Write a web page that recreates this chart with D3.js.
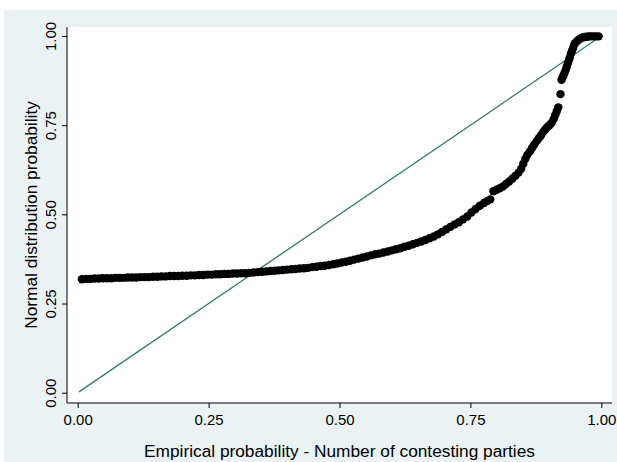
<!DOCTYPE html>
<html>
<head>
  <meta charset="utf-8">
  <script src="https://d3js.org/d3.v7.min.js"></script>
  <style>
    body { margin: 0; background: #ffffff; }
    text { font-family: "Liberation Sans", Arial, sans-serif; fill: #000; }
  </style>
</head>
<body>
  <div id="chart"></div>
  <script>
    // empirical probability (x) and normal distribution probability (y)
    var empirical = [
      0.008, 0.016, 0.024, 0.032, 0.040, 0.048, 0.056, 0.064, 0.072, 0.080,
      0.088, 0.096, 0.104, 0.112, 0.120, 0.128, 0.136, 0.144, 0.152, 0.160,
      0.168, 0.176, 0.184, 0.192, 0.200, 0.208, 0.216, 0.224, 0.232, 0.240,
      0.248, 0.256, 0.264, 0.272, 0.280, 0.288, 0.296, 0.304, 0.312, 0.320,
      0.328, 0.336, 0.344, 0.352, 0.360, 0.368, 0.376, 0.384, 0.392, 0.400,
      0.408, 0.416, 0.424, 0.432, 0.440, 0.448, 0.456, 0.464, 0.472, 0.480,
      0.488, 0.496, 0.504, 0.512, 0.520, 0.528, 0.536, 0.544, 0.552, 0.560,
      0.568, 0.576, 0.584, 0.592, 0.600, 0.608, 0.616, 0.624, 0.632, 0.640,
      0.648, 0.656, 0.664, 0.672, 0.680, 0.688, 0.696, 0.704, 0.712, 0.720,
      0.728, 0.736, 0.744, 0.752, 0.760, 0.768, 0.776, 0.782, 0.788, 0.794,
      0.800, 0.806, 0.812, 0.818, 0.824, 0.830, 0.836, 0.842, 0.847, 0.851,
      0.855, 0.859, 0.864, 0.868, 0.872, 0.877, 0.881, 0.885, 0.889, 0.893,
      0.897, 0.901, 0.905, 0.909, 0.912, 0.915, 0.918, 0.922, 0.924, 0.926,
      0.928, 0.930, 0.932, 0.934, 0.936, 0.938, 0.940, 0.942, 0.944, 0.946,
      0.948, 0.950, 0.953, 0.956, 0.960, 0.964, 0.968, 0.972, 0.976, 0.980,
      0.985, 0.990, 0.995
    ];
    var normalProb = [
      0.318, 0.319, 0.319, 0.320, 0.320, 0.321, 0.321, 0.321, 0.322, 0.322,
      0.322, 0.323, 0.323, 0.323, 0.324, 0.324, 0.324, 0.325, 0.325, 0.326,
      0.326, 0.327, 0.327, 0.327, 0.328, 0.328, 0.329, 0.329, 0.330, 0.330,
      0.331, 0.331, 0.332, 0.332, 0.333, 0.333, 0.334, 0.334, 0.335, 0.335,
      0.336, 0.337, 0.338, 0.339, 0.340, 0.341, 0.342, 0.343, 0.344, 0.345,
      0.346, 0.347, 0.348, 0.349, 0.350, 0.352, 0.353, 0.355, 0.356, 0.358,
      0.360, 0.362, 0.365, 0.367, 0.370, 0.373, 0.376, 0.379, 0.382, 0.385,
      0.388, 0.390, 0.393, 0.396, 0.399, 0.402, 0.405, 0.409, 0.412, 0.416,
      0.420, 0.424, 0.428, 0.433, 0.438, 0.444, 0.451, 0.458, 0.465, 0.472,
      0.478, 0.486, 0.494, 0.505, 0.515, 0.524, 0.532, 0.537, 0.542, 0.565,
      0.569, 0.573, 0.578, 0.585, 0.592, 0.600, 0.608, 0.617, 0.628, 0.642,
      0.656, 0.667, 0.677, 0.687, 0.696, 0.706, 0.714, 0.722, 0.731, 0.738,
      0.745, 0.750, 0.756, 0.767, 0.778, 0.789, 0.800, 0.837, 0.877, 0.884,
      0.890, 0.897, 0.905, 0.914, 0.923, 0.932, 0.940, 0.950, 0.958, 0.966,
      0.975, 0.980, 0.985, 0.989, 0.993, 0.996, 0.997, 0.998, 0.999, 0.999,
      0.999, 0.999, 0.999
    ];
    var tickValues = [0, 0.25, 0.5, 0.75, 1];
    var xTitle = "Empirical probability - Number of contesting parties";
    var yTitle = "Normal distribution probability";

    var data = empirical.map((e, i) => ({ e: e, n: normalProb[i] }));

    var W = 617, H = 462;
    var svg = d3.select("#chart")
                .append("svg")
                .attr("width", W)
                .attr("height", H);

    // graph region and plot region
    var plot = { left: 67, right: 612, top: 27, bottom: 403 };

    svg.append("rect")
       .attr("x", 4).attr("y", 10)
       .attr("width", W - 4).attr("height", H - 10)
       .attr("fill", "#eaf2f3");

    svg.append("rect")
       .attr("x", plot.left).attr("y", plot.top)
       .attr("width", plot.right - plot.left)
       .attr("height", plot.bottom - plot.top)
       .attr("fill", "#ffffff");

    var xScale = d3.scaleLinear().domain([0, 1]).range([77.7, 601.3]);
    var yScale = d3.scaleLinear().domain([0, 1]).range([392.7, 36]);

    // reference line y = x
    var lo = d3.min(empirical);
    var ref = [lo * 0.3, 1];
    svg.append("line")
       .attr("x1", xScale(ref[0])).attr("y1", yScale(ref[0]))
       .attr("x2", xScale(ref[1])).attr("y2", yScale(ref[1]))
       .attr("stroke", "#2f7a6d")
       .attr("stroke-width", 1.3);

    // points
    svg.append("g")
       .selectAll("circle")
       .data(data)
       .enter()
       .append("circle")
       .attr("cx", d => xScale(d.e))
       .attr("cy", d => yScale(d.n))
       .attr("r", 4.2)
       .attr("fill", "#000");

    // axes
    var xAxis = svg.append("g")
       .attr("transform", `translate(0, ${plot.bottom})`)
       .call(d3.axisBottom(xScale).tickValues(tickValues).tickFormat(d3.format(".2f")).tickSizeOuter(0).tickSize(5).tickPadding(6));
    xAxis.select(".domain").remove();
    xAxis.append("line")
       .attr("x1", plot.left).attr("x2", plot.right)
       .attr("stroke", "#000");
    xAxis.selectAll("text")
       .style("font-size", "15px")
       .attr("fill", "#000");
    xAxis.selectAll(".tick line").attr("stroke", "#000");

    var yAxis = svg.append("g")
       .attr("transform", `translate(${plot.left}, 0)`)
       .call(d3.axisLeft(yScale).tickValues(tickValues).tickFormat(d3.format(".2f")).tickSizeOuter(0).tickSize(5));
    yAxis.select(".domain").remove();
    yAxis.append("line")
       .attr("y1", plot.top).attr("y2", plot.bottom)
       .attr("stroke", "#000");
    yAxis.selectAll(".tick line").attr("stroke", "#000");
    yAxis.selectAll("text")
       .attr("x", null).attr("dy", null)
       .attr("transform", "translate(-11, 0) rotate(-90)")
       .style("text-anchor", "middle")
       .style("font-size", "15px")
       .attr("fill", "#000");

    // titles
    svg.append("text")
       .attr("x", (plot.left + plot.right) / 2)
       .attr("y", 457)
       .style("text-anchor", "middle")
       .style("font-size", "17.3px")
       .text(xTitle);

    svg.append("text")
       .attr("transform", `translate(37, ${(plot.top + plot.bottom) / 2}) rotate(-90)`)
       .style("text-anchor", "middle")
       .style("font-size", "17.3px")
       .text(yTitle);
  </script>
</body>
</html>
